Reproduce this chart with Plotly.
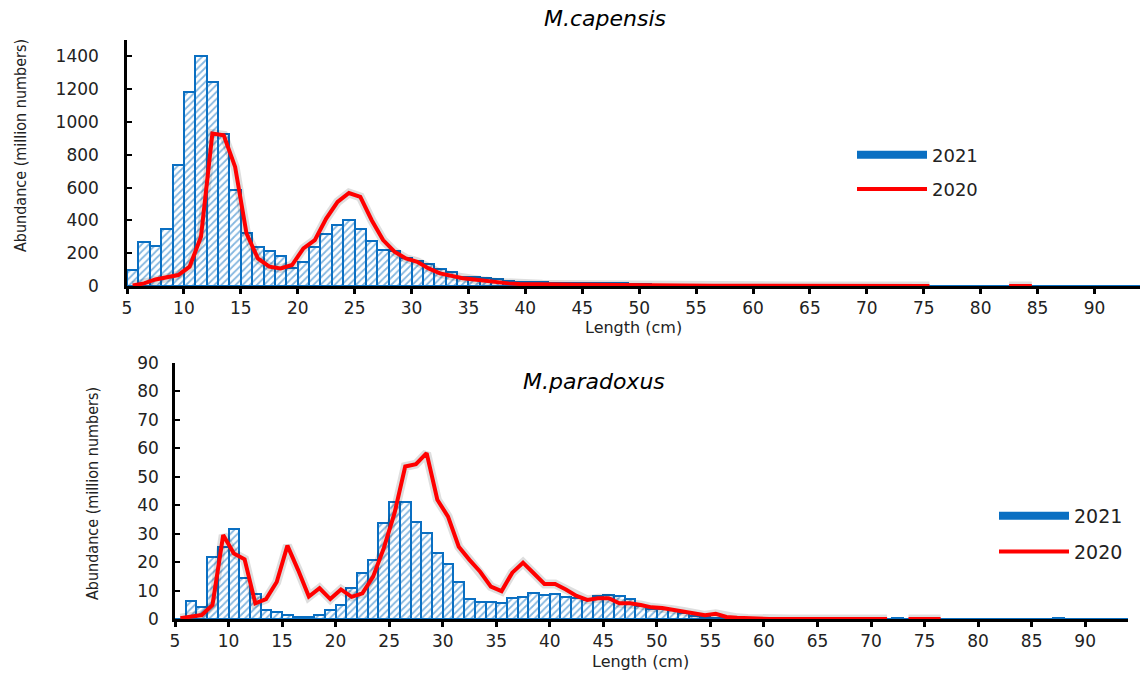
import plotly.graph_objects as go

# Length classes (cm); each class L covers [L, L+1)
lengths = list(range(5, 95))

# M. capensis abundance (million numbers)
capensis_2021 = [100, 270, 245, 347, 737, 1183, 1400, 1244, 925, 584,
                 325, 235, 213, 183, 112, 148, 235, 316, 371, 401,
                 345, 276, 219, 213, 168, 154, 132, 101, 83, 57,
                 53, 47, 40, 30, 26, 24, 22, 20, 18, 17,
                 20, 21, 20, 18, 14, 11, 9, 8, 7, 5,
                 5, 4, 3, 2, 2, 1] + [0] * 34
capensis_2020 = [3, 16, 40, 53, 67, 118, 300, 929, 919, 726,
                 320, 168, 118, 107, 128, 229, 280, 411, 513, 567,
                 543, 401, 280, 209, 168, 148, 107, 77, 61, 47,
                 40, 30, 22, 16, 12, 10, 10, 9, 8, 7,
                 7, 6, 6, 5, 5, 5, 4, 3, 2, 2,
                 2, 1, 1, 1] + [0] * 17 + [None] * 6 + [0] * 3 + [None] * 10

# M. paradoxus abundance (million numbers)
paradoxus_2021 = [0, 6.4, 4.1, 21.7, 25.2, 31.7, 14.3, 8.7, 3.2, 2.5,
                  1.4, 0.8, 0.8, 1.4, 3.2, 4.9, 10.8, 16.1, 20.8, 33.6,
                  41.3, 41.3, 34.2, 30.1, 23.1, 19.2, 13.1, 7.0, 6.1, 6.0,
                  5.7, 7.5, 7.9, 9.0, 8.3, 8.7, 7.9, 7.3, 6.7, 8.2,
                  8.4, 8.2, 7.0, 4.5, 3.5, 3.5, 3.0, 2.1, 1.2, 0.7,
                  0.5, 0.3, 0.2, 0.1] + [0] * 13 + [0.3] + [0] * 14 + [0.3] + [0] * 7
paradoxus_2020 = [0.3, 1.0, 1.4, 4.9, 29.5, 23.0, 21.0, 5.5, 7.0, 13.0,
                  25.8, 17.2, 7.9, 10.8, 7.0, 10.4, 7.8, 9.0, 14.9, 24.9,
                  37.2, 53.6, 54.4, 58.3, 41.9, 36.0, 25.4, 20.8, 16.6, 11.4,
                  9.8, 16.3, 19.8, 16.1, 12.3, 12.3, 10.4, 8.1, 6.7, 7.3,
                  7.3, 5.5, 5.5, 4.9, 4.1, 3.9, 3.3, 2.7, 1.9, 1.3,
                  1.8, 0.7, 0.4, 0.2] + [0] * 13 + [None] + [0] * 4 + [None] * 18

x_ticks = list(range(5, 95, 5))
cap_y_ticks = list(range(0, 1401, 200))
par_y_ticks = list(range(0, 91, 10))

# class mid-points used for both bars and lines
mids = [L + 0.5 for L in lengths]

BLUE = "#0a6fc2"
RED = "#ff0000"
FONT = "DejaVu Sans, Verdana, sans-serif"
NARROW = "DejaVu Sans Condensed, Liberation Sans Narrow, Arial Narrow, sans-serif"

bar_style = dict(
    color="white",
    line=dict(color=BLUE, width=2),
    pattern=dict(shape="/", fgcolor=BLUE, bgcolor="white", size=5, solidity=0.35),
)

fig = go.Figure()


def add_panel(xa, ya, leg, bars, line):
    fig.add_trace(go.Bar(x=mids, y=bars, width=1, name="2021", marker=bar_style,
                         xaxis=xa, yaxis=ya, showlegend=False))
    # soft grey shadow under the 2020 line
    fig.add_trace(go.Scatter(x=mids, y=line, mode="lines", showlegend=False,
                             line=dict(color="rgba(0,0,0,0.13)", width=9),
                             xaxis=xa, yaxis=ya, hoverinfo="skip", connectgaps=False))
    fig.add_trace(go.Scatter(x=mids, y=line, mode="lines", name="2020",
                             line=dict(color=RED, width=4), xaxis=xa, yaxis=ya,
                             legend=leg, legendgroup=leg + "b", legendrank=2,
                             connectgaps=False))
    # legend key for the bar series, drawn as a wide blue band
    fig.add_trace(go.Scatter(x=[None], y=[None], mode="lines", name="2021",
                             line=dict(color=BLUE, width=8), xaxis=xa, yaxis=ya,
                             legend=leg, legendgroup=leg + "a", legendrank=1,
                             hoverinfo="skip"))


add_panel("x", "y", "legend", capensis_2021, capensis_2020)
add_panel("x2", "y2", "legend2", paradoxus_2021, paradoxus_2020)

W, H = 1146, 673


def px_x(p):
    return p / W


def px_y(p):
    return 1 - p / H


axis_common = dict(
    showgrid=False, zeroline=False, showline=True, linecolor="black",
    linewidth=2.5, layer="below traces",
    tickfont=dict(family=FONT, size=17, color="#222"),
)


def label(text, x, y, size, family=FONT, angle=0, style="normal", color="#222"):
    return dict(text=text, x=px_x(x), y=px_y(y), xref="paper", yref="paper",
                xanchor="center", yanchor="middle", showarrow=False,
                textangle=angle,
                font=dict(family=family, size=size, style=style, color=color))


fig.update_layout(
    width=W, height=H,
    margin=dict(l=0, r=0, t=0, b=0, autoexpand=False),
    paper_bgcolor="white", plot_bgcolor="white",
    barmode="overlay", bargap=0,
    xaxis=dict(domain=[px_x(127), px_x(1140)], range=[5, 94], anchor="y",
               tickvals=x_ticks, ticks="outside", ticklen=5, tickwidth=2.5,
               tickcolor="black", **axis_common),
    yaxis=dict(domain=[px_y(286), px_y(40)], range=[0, 1500], anchor="x",
               tickvals=cap_y_ticks, ticks="inside", ticklen=5, tickwidth=2,
               tickcolor="black", ticklabelstandoff=22, **axis_common),
    xaxis2=dict(domain=[px_x(175), px_x(1128)], range=[5, 94], anchor="y2",
                tickvals=x_ticks, ticks="outside", ticklen=5, tickwidth=2.5,
                tickcolor="black", **axis_common),
    yaxis2=dict(domain=[px_y(619), px_y(363)], range=[0, 90], anchor="x2",
                tickvals=par_y_ticks, ticks="inside", ticklen=5, tickwidth=2,
                tickcolor="black", ticklabelstandoff=10, **axis_common),
    legend=dict(x=px_x(852), y=px_y(172), xanchor="left", yanchor="middle",
                font=dict(family=FONT, size=18, color="#222"),
                itemwidth=70, tracegroupgap=8, bgcolor="rgba(0,0,0,0)"),
    legend2=dict(x=px_x(994), y=px_y(534), xanchor="left", yanchor="middle",
                 font=dict(family=FONT, size=19, color="#222"),
                 itemwidth=70, tracegroupgap=8, bgcolor="rgba(0,0,0,0)"),
    annotations=[
        label("M.capensis", 605, 18, 22, style="italic", color="black"),
        label("M.paradoxus", 594, 381, 22, style="italic", color="black"),
        label("Length (cm)", 633, 327, 16),
        label("Length (cm)", 640, 661, 16),
        label("Abundance (million numbers)", 20, 146, 16, family=NARROW, angle=-90),
        label("Abundance (million numbers)", 93, 494, 16, family=NARROW, angle=-90),
    ],
)

fig.write_html("out.html")
